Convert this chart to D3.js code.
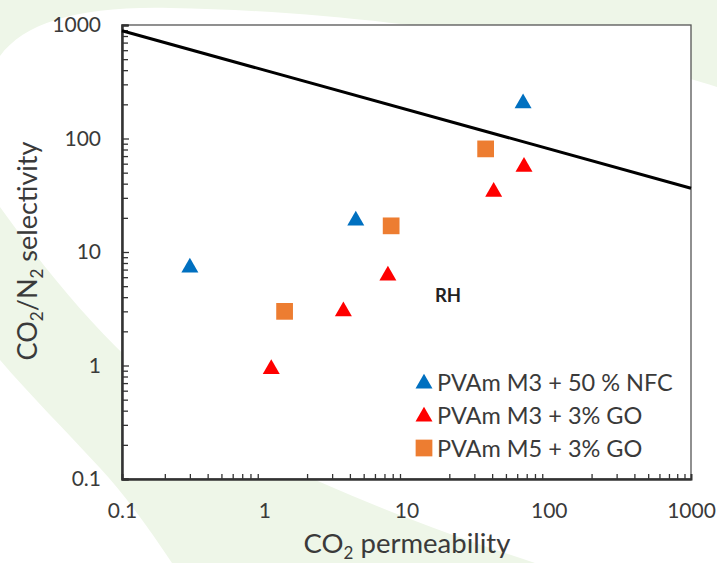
<!DOCTYPE html>
<html><head><meta charset="utf-8">
<script src="https://cdn.jsdelivr.net/npm/d3@7/dist/d3.min.js"></script>
<style>body{margin:0;background:#fff}svg{display:block}</style>
</head><body>
<svg id="c" width="717" height="563"></svg>
<script>
// ---- data ----
const blueX = [0.3, 4.4, 66];
const blueY = [7.5, 19.5, 210];
const redX = [1.12, 3.6, 7.4, 41, 67];
const redY = [0.96, 3.1, 6.4, 35, 58];
const orangeX = [1.39, 7.8, 36];
const orangeY = [3.0, 17, 81];
const boundX = [0.1, 1000];
const boundY = [890, 36.5];
const tickLabels = ["0.1", "1", "10", "100", "1000"];
const tickValues = [0.1, 1, 10, 100, 1000];
const seriesNames = ["PVAm M3 + 50 % NFC", "PVAm M3 + 3% GO", "PVAm M5 + 3% GO"];
const seriesColors = ["#0070c0", "#ff0000", "#ed7d31"];
const seriesShapes = ["triangle", "triangle", "square"];

const svg = d3.select("#c");
const L = 122, R = 691, T = 25, B = 479;
const FONT = "Lato, 'Open Sans', sans-serif";
const TXT = "#3a3a3a";

// background decoration
svg.append("path")
  .attr("d", "M0,0 H717 V87 C640,62 420,12 170,8 C80,6 25,22 0,56 Z")
  .attr("fill", "#eef6e8");
svg.append("path")
  .attr("d", "M0,207 C60,290 140,390 250,448 C340,496 450,535 535,563 L172,563 C150,530 125,495 100,468 C65,430 30,395 0,360 Z")
  .attr("fill", "#eef6e8");

const x = d3.scaleLog().domain([0.1, 1000]).range([L, R]);
const y = d3.scaleLog().domain([0.1, 1000]).range([B, T]);

// plot area
svg.append("rect").attr("x", L).attr("y", T).attr("width", R - L).attr("height", B - T)
  .attr("fill", "#fff").attr("stroke", "#555").attr("stroke-width", 1.3);

// minor ticks
const minor = [];
for (let d = 0.1; d < 1000; d *= 10) for (let k = 2; k <= 9; k++) minor.push(+(d * k).toPrecision(3));

const xMinor = svg.append("g").attr("transform", `translate(0,${B})`)
  .call(d3.axisBottom(x).tickValues(minor).tickSize(-5).tickFormat(""));
const yMinor = svg.append("g").attr("transform", `translate(${L},0)`)
  .call(d3.axisLeft(y).tickValues(minor).tickSize(-6).tickFormat(""));
const yMajor = svg.append("g").attr("transform", `translate(${L},0)`)
  .call(d3.axisLeft(y).tickValues(tickValues).tickSize(-7).tickPadding(21)
    .tickFormat((d, i) => tickLabels[i]));
const xMajor = svg.append("g").attr("transform", `translate(0,${B})`)
  .call(d3.axisBottom(x).tickValues(tickValues).tickSize(0).tickPadding(24)
    .tickFormat((d, i) => tickLabels[i]));
[xMinor, yMinor, yMajor, xMajor].forEach(g => {
  g.select(".domain").attr("stroke", "#333").attr("stroke-width", 2);
  g.selectAll(".tick line").attr("stroke", "#333").attr("stroke-width", 1.3);
  g.selectAll("text").attr("font-family", FONT).attr("font-size", 21).attr("fill", TXT);
});

// bound line
svg.append("path")
  .datum(boundX.map((v, i) => [v, boundY[i]]))
  .attr("d", d3.line().x(d => x(d[0])).y(d => y(d[1])))
  .attr("stroke", "#000").attr("stroke-width", 3).attr("fill", "none");

const tri = d3.symbol().type(d3.symbolTriangle).size(125);
const sq = d3.symbol().type(d3.symbolSquare).size(280);
function drawPts(xs, ys, color, shape) {
  svg.append("g").selectAll("path").data(xs.map((v, i) => [v, ys[i]])).join("path")
    .attr("transform", d => `translate(${x(d[0])},${y(d[1]) + (shape === "triangle" ? 1.5 : 0)})`)
    .attr("d", shape === "triangle" ? tri : sq)
    .attr("fill", color);
}
drawPts(orangeX, orangeY, seriesColors[2], "square");
drawPts(redX, redY, seriesColors[1], "triangle");
drawPts(blueX, blueY, seriesColors[0], "triangle");

// RH label
svg.append("text").attr("x", 448).attr("y", 302).attr("text-anchor", "middle")
  .attr("font-family", FONT).attr("font-weight", "bold").attr("font-size", 18.5)
  .attr("fill", "#222").text("RH");

// legend
const leg = svg.append("g");
seriesNames.forEach((name, i) => {
  const cy = 382 + i * 33;
  leg.append("path")
    .attr("transform", `translate(424,${cy + (seriesShapes[i] === "triangle" ? 1.5 : 0)})`)
    .attr("d", seriesShapes[i] === "triangle" ? tri : sq)
    .attr("fill", seriesColors[i]);
  leg.append("text").attr("x", 437).attr("y", cy + 8.5)
    .attr("font-family", FONT).attr("font-size", 23.5).attr("fill", TXT).text(name);
});

// axis titles
const xt = svg.append("text").attr("x", 407).attr("y", 553).attr("text-anchor", "middle")
  .attr("font-family", FONT).attr("font-size", 27.5).attr("fill", TXT);
xt.append("tspan").text("CO");
xt.append("tspan").attr("font-size", 17).attr("dy", 6).text("2");
xt.append("tspan").attr("dy", -6).text(" permeability");

const yt = svg.append("text").attr("transform", "translate(37,251) rotate(-90)").attr("text-anchor", "middle")
  .attr("font-family", FONT).attr("font-size", 27).attr("fill", TXT);
yt.append("tspan").text("CO");
yt.append("tspan").attr("font-size", 17).attr("dy", 6).text("2");
yt.append("tspan").attr("dy", -6).text("/N");
yt.append("tspan").attr("font-size", 17).attr("dy", 6).text("2");
yt.append("tspan").attr("dy", -6).text(" selectivity");
</script>
</body></html>
